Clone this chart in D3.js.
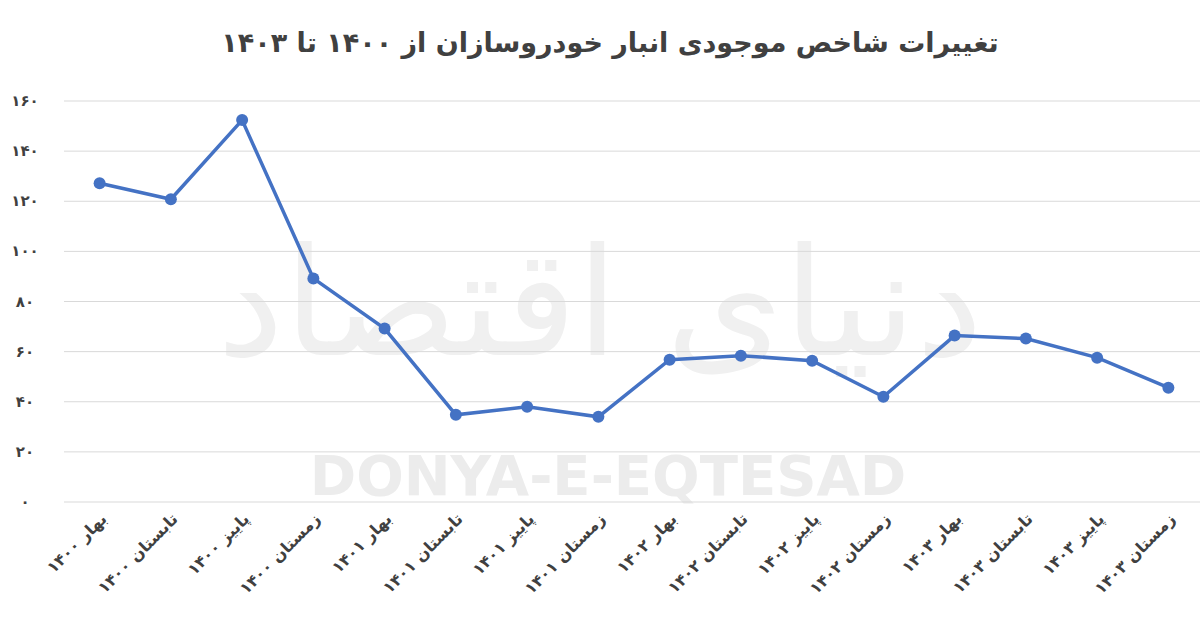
<!DOCTYPE html>
<html><head><meta charset="utf-8">
<script src="https://cdn.jsdelivr.net/npm/d3@7"></script>
<style>body{margin:0;background:#fff}svg{display:block}text{font-family:"DejaVu Sans",sans-serif}</style>
</head><body><svg id="c" width="1200" height="632"></svg>
<script>
const categories = ["بهار ۱۴۰۰","تابستان ۱۴۰۰","پاییز ۱۴۰۰","زمستان ۱۴۰۰","بهار ۱۴۰۱","تابستان ۱۴۰۱","پاییز ۱۴۰۱","زمستان ۱۴۰۱","بهار ۱۴۰۲","تابستان ۱۴۰۲","پاییز ۱۴۰۲","زمستان ۱۴۰۲","بهار ۱۴۰۳","تابستان ۱۴۰۳","پاییز ۱۴۰۳","زمستان ۱۴۰۳"];
const values = [127.2,120.8,152.4,89.2,69.2,34.8,38,34,56.8,58.4,56.4,42,66.4,65.2,57.6,45.6];
const yTicks = [0,20,40,60,80,100,120,140,160];
const fa = n => String(n).replace(/\d/g, d => "۰۱۲۳۴۵۶۷۸۹"[d]);

const svg = d3.select("#c");
const x = d3.scaleBand().domain(categories).range([64, 1204]);
const y = d3.scaleLinear().domain([0,160]).range([502, 101]);

// watermark
svg.append("text").attr("x",600).attr("y",355).attr("text-anchor","middle")
  .attr("font-size",150).attr("fill","#f0f0f0").attr("direction","rtl").text("دنیای اقتصاد");
svg.append("text").attr("x",608).attr("y",495).attr("text-anchor","middle")
  .attr("font-size",56).attr("font-weight","bold").attr("fill","#ececec").text("DONYA-E-EQTESAD");

svg.append("g").selectAll("line").data(yTicks).join("line")
  .attr("x1",64).attr("x2",1200).attr("y1",d=>y(d)).attr("y2",d=>y(d))
  .attr("stroke","#d9d9d9").attr("stroke-width",1);
svg.append("g").selectAll("text").data(yTicks).join("text")
  .attr("x",25).attr("y",d=>y(d)+5).attr("text-anchor","middle")
  .attr("font-size",15).attr("font-weight","bold").attr("fill","#404040").text(d=>fa(d));

const cx = d => x(d) + x.bandwidth()/2;
svg.append("g").selectAll("text").data(categories).join("text")
  .attr("transform",d=>`translate(${cx(d)+8},${520}) rotate(-45)`)
  .attr("text-anchor","start").attr("direction","rtl")
  .attr("font-size",16).attr("font-weight","bold").attr("fill","#404040").text(d=>d);

const pts = categories.map((c,i)=>[cx(c), y(values[i])]);
svg.append("path").attr("d",d3.line()(pts)).attr("fill","none")
  .attr("stroke","#4472c4").attr("stroke-width",3.5);
svg.append("g").selectAll("circle").data(pts).join("circle")
  .attr("cx",d=>d[0]).attr("cy",d=>d[1]).attr("r",6).attr("fill","#4472c4");

svg.append("text").attr("x",610).attr("y",52).attr("text-anchor","middle").attr("direction","rtl")
  .attr("font-size",27).attr("font-weight","bold").attr("fill","#404040")
  .text("تغییرات شاخص موجودی انبار خودروسازان از ۱۴۰۰ تا ۱۴۰۳");
</script></body></html>
